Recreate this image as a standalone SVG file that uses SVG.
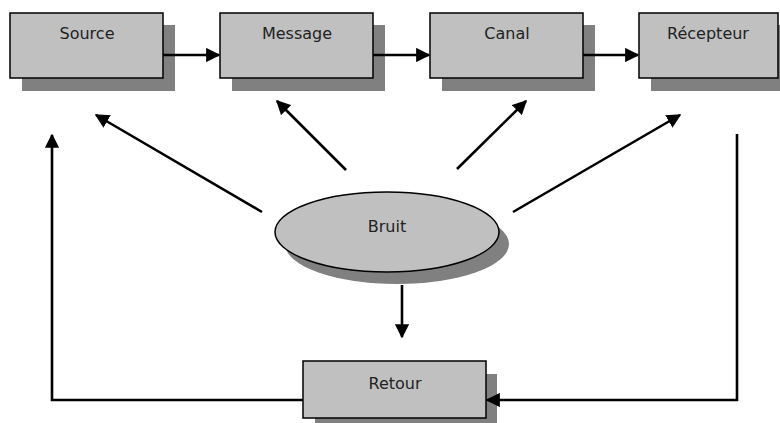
<svg xmlns="http://www.w3.org/2000/svg" width="780" height="423" viewBox="0 0 780 423">
  <style>
    .box { fill: #c0c0c0; stroke: #000; stroke-width: 1.5; }
    .shadow { fill: #808080; }
    .label { font-family: "Comic Sans MS", "DejaVu Sans", "Liberation Sans", sans-serif; font-size: 16px; fill: #222; text-anchor: middle; }
    .conn { fill: none; stroke: #000; stroke-width: 2.6; }
  </style>
  <defs>
    <marker id="arrow" viewBox="0 0 10 10" refX="9" refY="5" markerWidth="5.5" markerHeight="5.5" markerUnits="strokeWidth" orient="auto">
      <path d="M0,0 L10,5 L0,10 Z" fill="#000"/>
    </marker>
  </defs>
  <rect width="780" height="423" fill="#fff"/>

  <g id="source">
    <rect class="shadow" x="22" y="25" width="153" height="66"/>
    <rect class="box" x="10" y="13" width="153" height="65"/>
    <text class="label" x="87" y="39">Source</text>
  </g>
  <g id="message">
    <rect class="shadow" x="232" y="25" width="153" height="66"/>
    <rect class="box" x="220" y="13" width="153" height="65"/>
    <text class="label" x="297" y="39">Message</text>
  </g>
  <g id="canal">
    <rect class="shadow" x="442" y="25" width="153" height="66"/>
    <rect class="box" x="430" y="13" width="153" height="65"/>
    <text class="label" x="507" y="39">Canal</text>
  </g>
  <g id="recepteur">
    <rect class="shadow" x="651" y="25" width="153" height="66"/>
    <rect class="box" x="639" y="13" width="139" height="65"/>
    <text class="label" x="708" y="39">Récepteur</text>
  </g>
  <g id="bruit">
    <ellipse class="shadow" cx="397" cy="244" rx="112" ry="40"/>
    <ellipse class="box" cx="387" cy="232" rx="112" ry="40"/>
    <text class="label" x="387" y="232">Bruit</text>
  </g>
  <g id="retour">
    <rect class="shadow" x="315" y="374" width="182" height="60"/>
    <rect class="box" x="303" y="361" width="183" height="57"/>
    <text class="label" x="395" y="389">Retour</text>
  </g>

  <g id="connectors">
    <line class="conn" x1="163" y1="55" x2="219" y2="55" marker-end="url(#arrow)"/>
    <line class="conn" x1="373" y1="55" x2="429" y2="55" marker-end="url(#arrow)"/>
    <line class="conn" x1="583" y1="55" x2="638" y2="55" marker-end="url(#arrow)"/>
    <line class="conn" x1="262" y1="212" x2="96" y2="115" marker-end="url(#arrow)"/>
    <line class="conn" x1="346" y1="170" x2="277" y2="101" marker-end="url(#arrow)"/>
    <line class="conn" x1="457" y1="169" x2="526" y2="101" marker-end="url(#arrow)"/>
    <line class="conn" x1="513" y1="212" x2="680" y2="115" marker-end="url(#arrow)"/>
    <line class="conn" x1="402" y1="285" x2="402" y2="337" marker-end="url(#arrow)"/>
    <polyline class="conn" points="737,134 737,400 487,400" marker-end="url(#arrow)"/>
    <polyline class="conn" points="303,400 52,400 52,135" marker-end="url(#arrow)"/>
  </g>
</svg>
